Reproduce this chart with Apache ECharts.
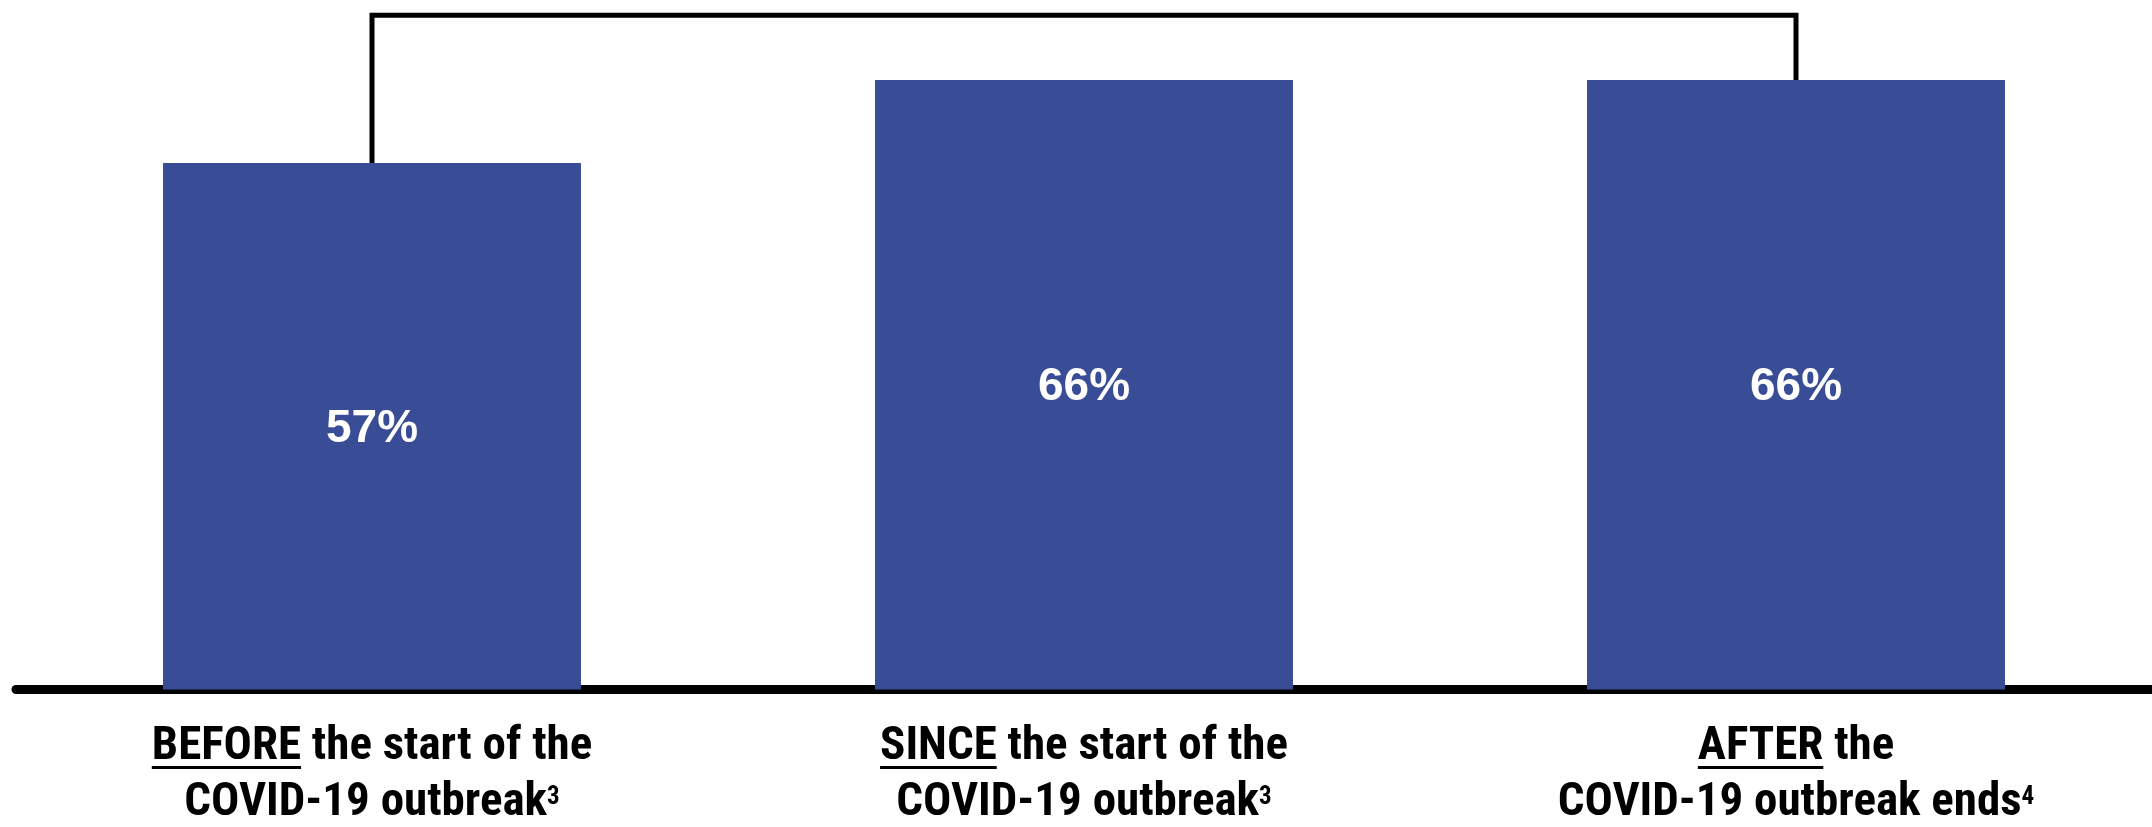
<!DOCTYPE html>
<html>
<head>
<meta charset="utf-8">
<script src="https://cdn.jsdelivr.net/npm/echarts@6/dist/echarts.min.js"></script>
<style>
  html, body { margin: 0; padding: 0; background: #ffffff; }
  #chart { width: 2152px; height: 827px; }
</style>
</head>
<body>
<div id="chart"></div>
<script>
// Time periods: underlined key word, rest of first line, second line, footnote mark
const periods = ['BEFORE', 'SINCE', 'AFTER'];
const restLine1 = [' the start of the', ' the start of the', ' the'];
const line2 = ['COVID-19 outbreak', 'COVID-19 outbreak', 'COVID-19 outbreak ends'];
const footnotes = ['3', '3', '4'];
// Share of respondents (%)
const shares = [57, 66, 66];
// Bracket joining the first and last period, drawn at this value level
const bracketPair = [0, 2];
const bracketLevel = 73;

const categories = periods.map((p, i) => p + restLine1[i] + ' ' + line2[i]);

const labelFont = "'Liberation Sans Narrow', 'Roboto Condensed', 'DejaVu Sans Condensed', sans-serif";
const catSize = 47;
const lineH = 56;
const labelMargin = 30;
const barColor = '#394C96';

const chart = echarts.init(document.getElementById('chart'), null, { renderer: 'canvas' });

const richBase = { fontFamily: labelFont, fontWeight: 'bold', fontSize: catSize, color: '#000', lineHeight: lineH };

chart.setOption({
  animation: false,
  backgroundColor: '#ffffff',
  grid: { left: 16, right: 0, top: 6, bottom: 137, containLabel: false },
  xAxis: {
    type: 'category',
    data: categories,
    axisTick: { show: false },
    axisLine: { show: true, lineStyle: { color: '#000', width: 9 } },
    axisLabel: {
      interval: 0,
      margin: labelMargin,
      align: 'center',
      formatter: (value, idx) =>
        `{b|${periods[idx]}}{b|${restLine1[idx]}}\n{b|${line2[idx]}}{sup|${footnotes[idx]}}`,
      rich: {
        b: Object.assign({}, richBase),
        sup: Object.assign({}, richBase, { fontSize: 25, lineHeight: 20, padding: [0, 0, 11, 0] })
      }
    }
  },
  yAxis: {
    type: 'value',
    min: 0,
    max: 74,
    show: false,
    splitLine: { show: false }
  },
  series: [{
    type: 'bar',
    data: shares,
    barWidth: '58.7%',
    itemStyle: { color: barColor },
    label: {
      show: true,
      position: 'inside',
      offset: [0, 3],
      formatter: p => p.value + '%',
      color: '#ffffff',
      fontFamily: "'Liberation Sans', Arial, sans-serif",
      fontWeight: 'bold',
      fontSize: 46
    }
  }]
});

// Underlines under the key word of each period label, and the comparison bracket
function drawOverlays() {
  const ctx = document.createElement('canvas').getContext('2d');
  ctx.font = `bold ${catSize}px ${labelFont}`;
  const axisY = chart.convertToPixel({ seriesIndex: 0 }, [0, 0])[1];
  const underlineY = axisY + labelMargin + lineH / 2 + 20;

  const underlines = periods.map((p, i) => {
    const cx = chart.convertToPixel({ seriesIndex: 0 }, [i, 0])[0];
    const wWord = ctx.measureText(p).width;
    const wLine = ctx.measureText(p).width + ctx.measureText(restLine1[i]).width;
    const x0 = cx - wLine / 2;
    return {
      type: 'line',
      silent: true,
      shape: { x1: x0, y1: underlineY, x2: x0 + wWord, y2: underlineY },
      style: { stroke: '#000', lineWidth: 3 }
    };
  });

  const a = bracketPair[0], b = bracketPair[1];
  const pA = chart.convertToPixel({ seriesIndex: 0 }, [a, shares[a]]);
  const pB = chart.convertToPixel({ seriesIndex: 0 }, [b, shares[b]]);
  const top = chart.convertToPixel({ seriesIndex: 0 }, [a, bracketLevel])[1];
  const bracket = {
    type: 'polyline',
    silent: true,
    shape: { points: [[pA[0], pA[1]], [pA[0], top], [pB[0], top], [pB[0], pB[1]]] },
    style: { stroke: '#000', lineWidth: 5, fill: null, lineJoin: 'miter', lineCap: 'butt' }
  };

  chart.setOption({ graphic: underlines.concat([bracket]) });
}
drawOverlays();
</script>
</body>
</html>
